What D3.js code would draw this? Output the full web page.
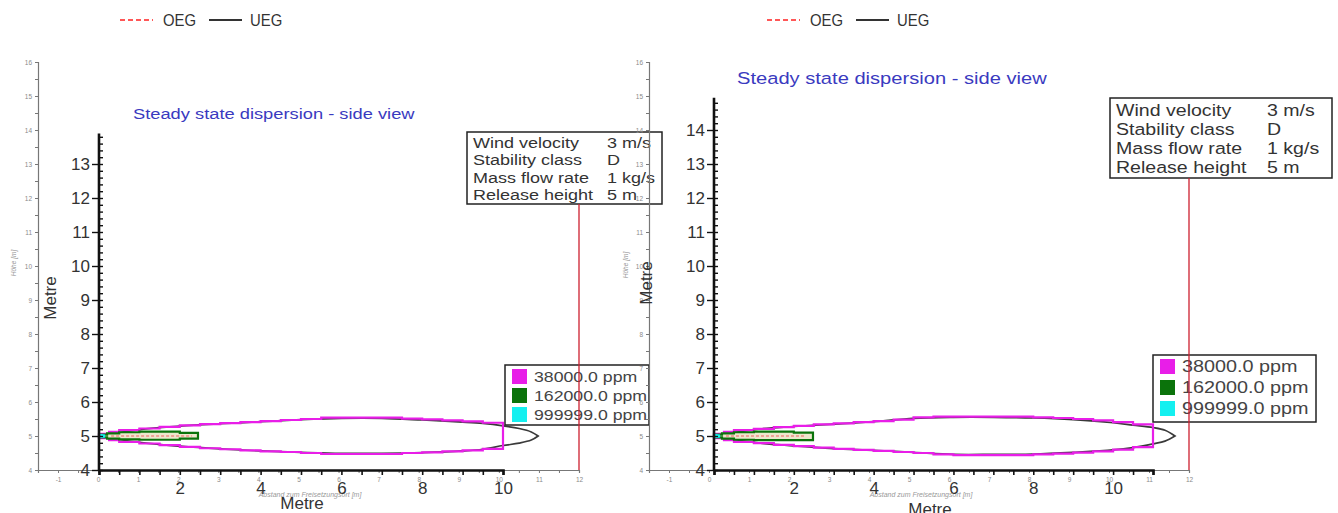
<!DOCTYPE html>
<html><head><meta charset="utf-8">
<script src="https://cdn.jsdelivr.net/npm/d3@7"></script>
<style>
html,body{margin:0;padding:0;background:#fff;}
svg{display:block;}
</style></head>
<body><svg id="c" width="1338" height="513"></svg>
<script>
// ---------- DATA ----------
const bgXTicks = [-1,0,1,2,3,4,5,6,7,8,9,10,11,12];
const bgYTicks = [4,5,6,7,8,9,10,11,12,13,14,15,16];
const fgXLabels = [2,4,6,8,10];
const fgYLabelsLeft = [4,5,6,7,8,9,10,11,12,13];
const fgYLabelsRight = [4,5,6,7,8,9,10,11,12,13,14];
const topLegend = ["OEG","UEG"];
const titleText = "Steady state dispersion - side view";
const infoLabels = ["Wind velocity","Stability class","Mass flow rate","Release height"];
const infoValues = ["3 m/s","D","1 kg/s","5 m"];
const concLabels = ["38000.0 ppm","162000.0 ppm","999999.0 ppm"];
const concColors = ["#e81ee8","#0b730b","#14f0f0"];
const axisTitle = "Metre";
const bgYTitle = "Höhe [m]";
const bgXTitle = "Abstand zum Freisetzungsort [m]";

// left panel plume (38000 ppm, stepped)
const leftMagX     = [0,0.25,0.5,1,1.5,2,2.5,3,3.5,4,4.5,5,5.5,6,6.5,7,7.5,8,8.5,9,9.5,10];
const leftMagUpper = [5.06,5.12,5.17,5.22,5.27,5.31,5.35,5.38,5.41,5.44,5.47,5.50,5.54,5.54,5.54,5.54,5.51,5.49,5.46,5.43,5.39,5.33];
const leftMagLower = [4.94,4.88,4.83,4.78,4.73,4.68,4.64,4.61,4.58,4.55,4.53,4.50,4.47,4.47,4.47,4.47,4.50,4.52,4.55,4.58,4.62,4.70];
// left panel 162000 ppm
const leftGrnX     = [0,0.2,0.5,1,1.5,2,2.45];
const leftGrnUpper = [5.04,5.08,5.11,5.13,5.13,5.09,5.09];
const leftGrnLower = [4.96,4.92,4.90,4.89,4.89,4.92,4.92];
// left panel UEG
const leftUegX     = [0,1,2,3,4,5,6,7,8,9,9.5,10,10.4,10.7,10.87];
const leftUegUpper = [5,5.19,5.29,5.36,5.42,5.48,5.52,5.52,5.47,5.41,5.37,5.30,5.22,5.12,5.0];
const leftUegLower = [5,4.81,4.70,4.62,4.56,4.52,4.49,4.49,4.51,4.56,4.61,4.72,4.79,4.88,5.0];

// right panel plume (38000 ppm)
const rightMagX     = [0,0.25,0.5,1,1.5,2,2.5,3,3.5,4,4.5,5,5.5,6,6.5,7,7.5,8,8.5,9,9.5,10,10.5,11];
const rightMagUpper = [5.06,5.12,5.17,5.21,5.26,5.30,5.34,5.37,5.41,5.44,5.48,5.55,5.57,5.57,5.57,5.57,5.57,5.55,5.53,5.50,5.46,5.41,5.34,5.27];
const rightMagLower = [4.94,4.88,4.83,4.79,4.74,4.70,4.66,4.62,4.59,4.56,4.53,4.50,4.46,4.44,4.44,4.44,4.44,4.46,4.48,4.51,4.55,4.60,4.67,4.76];
const rightGrnX     = [0,0.2,0.5,1,1.5,2,2.48];
const rightGrnUpper = [5.04,5.08,5.11,5.13,5.13,5.10,5.10];
const rightGrnLower = [4.96,4.92,4.89,4.88,4.88,4.88,4.88];
const rightUegX     = [0,1,2,3,4,5,6,7,8,9,10,10.5,11,11.3,11.55];
const rightUegUpper = [5,5.19,5.28,5.35,5.42,5.52,5.55,5.55,5.53,5.48,5.39,5.32,5.25,5.17,5.0];
const rightUegLower = [5,4.81,4.71,4.63,4.58,4.52,4.46,4.46,4.47,4.52,4.59,4.66,4.77,4.85,5.0];

// OEG (inner, dashed red) extent
const oegX = [0.3, 2.3];
const oegY = [5.0, 5.0];
// 999999 ppm core
const coreX = [0, 0.13];
const coreHalf = [0.04, 0.02];

// ---------- LAYOUT ----------
const panels = [
  {bgXr:[38,579], fgXd:[0,10], fgXr:[99,503], yR:[470,62], fgYTop:13.9, ylabels:fgYLabelsLeft,
   mag:[leftMagX,leftMagUpper,leftMagLower], grn:[leftGrnX,leftGrnUpper,leftGrnLower], ueg:[leftUegX,leftUegUpper,leftUegLower],
   legTop:{x:120,y:20}, title:{x:133,y:119,size:15,sx:1.22}, info:{x:467,y:132,w:195,h:72,c2:607,row:17.3,size:15,first:148,sx:1.2},
   conc:{x:505,y:365,w:144,h:60,size:15,row:19,sx:1.18},
   yTitle:{x:56,y:298}, xTitle:{x:302,y:509}, bgYT:{x:16,y:263}, bgXT:{x:310,y:497}},
  {bgXr:[649,1189], fgXd:[0,11], fgXr:[714,1153], yR:[470,62], fgYTop:14.95, ylabels:fgYLabelsRight,
   mag:[rightMagX,rightMagUpper,rightMagLower], grn:[rightGrnX,rightGrnUpper,rightGrnLower], ueg:[rightUegX,rightUegUpper,rightUegLower],
   legTop:{x:767,y:20}, title:{x:737,y:84,size:16.5,sx:1.22}, info:{x:1110,y:98,w:222,h:80,c2:1267,row:19,size:16.3,first:116,sx:1.2},
   conc:{x:1153,y:355,w:163,h:67,size:16.5,row:21,sx:1.2},
   yTitle:{x:652,y:283}, xTitle:{x:930,y:515}, bgYT:{x:628,y:265}, bgXT:{x:921,y:497}}
];

const svg = d3.select("#c");
const FONT = "'Liberation Sans', Arial, sans-serif";

function stext(g, x, y, t, size, sx, fill){
  return g.append("text").attr("transform",`translate(${x},${y}) scale(${sx},1)`)
    .attr("font-size",size).attr("font-family",FONT).attr("fill",fill).text(t);
}

function stepPolygon(xs, up, lo){
  const pts=[];
  const n=xs.length-1;
  for(let i=0;i<=n;i++){ pts.push([xs[i],up[i]]); if(i<n) pts.push([xs[i+1],up[i]]); }
  pts.push([xs[n],lo[n]]);
  for(let i=n;i>0;i--){ pts.push([xs[i],lo[i-1]]); pts.push([xs[i-1],lo[i-1]]); }
  return pts;
}

panels.forEach(p=>{
  const g = svg.append("g");
  const bgX = d3.scaleLinear().domain([-1.5,12]).range(p.bgXr);
  const fgX = d3.scaleLinear().domain(p.fgXd).range(p.fgXr);
  const y = d3.scaleLinear().domain([4,16]).range(p.yR);

  // background (faint) axes
  const bg = g.append("g").attr("class","bg");
  const bgAxisX = d3.axisBottom(bgX).tickValues(d3.range(-1.5,12.01,0.5)).tickSize(3)
      .tickFormat(d=> bgXTicks.includes(d)? d : "");
  bg.append("g").attr("transform",`translate(0,${y(4)})`).call(bgAxisX)
    .call(a=>{a.select(".domain").attr("stroke","#777").attr("stroke-width",1.2);
      a.selectAll("line").attr("stroke","#777");
      a.selectAll("text").attr("fill","#8a8a8a").attr("font-size",6.5).attr("font-family",FONT).attr("dy","0.9em");});
  const bgAxisY = d3.axisLeft(y).tickValues(d3.range(4,16.01,0.5)).tickSize(3)
      .tickFormat(d=> bgYTicks.includes(d)? d : "");
  bg.append("g").attr("transform",`translate(${bgX(-1.5)},0)`).call(bgAxisY)
    .call(a=>{a.select(".domain").attr("stroke","#777").attr("stroke-width",1.2);
      a.selectAll("line").attr("stroke","#777");
      a.selectAll("text").attr("fill","#8a8a8a").attr("font-size",6.5).attr("font-family",FONT);});
  bg.append("text").attr("transform",`translate(${p.bgYT.x},${p.bgYT.y}) rotate(-90)`)
    .attr("text-anchor","middle").attr("font-size",6.5).attr("font-style","italic").attr("fill","#999")
    .attr("font-family",FONT).text(bgYTitle);
  bg.append("text").attr("x",p.bgXT.x).attr("y",p.bgXT.y)
    .attr("text-anchor","middle").attr("font-size",7).attr("font-style","italic").attr("fill","#999")
    .attr("font-family",FONT).text(bgXTitle);

  // top legend
  const lt = g.append("g").attr("transform",`translate(${p.legTop.x},${p.legTop.y})`);
  lt.append("line").attr("x1",0).attr("x2",33).attr("stroke","#ff2020").attr("stroke-width",1.6).attr("stroke-dasharray","5,3");
  stext(lt, 43, 6, topLegend[0], 16, 0.93, "#333");
  lt.append("line").attr("x1",89).attr("x2",122).attr("stroke","#333").attr("stroke-width",2);
  stext(lt, 130, 6, topLegend[1], 16, 0.93, "#333");

  // title
  stext(g, p.title.x, p.title.y, titleText, p.title.size, p.title.sx, "#3a3ac0");

  // plume shapes
  const line = d3.line().x(d=>fgX(d[0])).y(d=>y(d[1]));
  const [ux,uu,ul] = p.ueg;
  const uegPts = ux.map((x,i)=>[x,uu[i]]).concat(ux.slice().reverse().map((x,k)=>[x, ul[ux.length-1-k]]));
  g.append("path").attr("d", d3.line().x(d=>fgX(d[0])).y(d=>y(d[1])).curve(d3.curveCatmullRom)(uegPts))
    .attr("fill","none").attr("stroke","#3a3a3a").attr("stroke-width",1.7);

  const [mx,mu,ml] = p.mag;
  g.append("path").attr("d", line(stepPolygon(mx,mu,ml))+"Z")
    .attr("fill","none").attr("stroke",concColors[0]).attr("stroke-width",2.2);

  const [gx,gu,gl] = p.grn;
  g.append("path").attr("d", line(stepPolygon(gx,gu,gl))+"Z")
    .attr("fill","#ece6cc").attr("stroke",concColors[1]).attr("stroke-width",2.2);
  g.append("path").attr("d", line(oegX.map((x,i)=>[x,oegY[i]])))
    .attr("stroke","#f06060").attr("stroke-width",1).attr("stroke-dasharray","3,2").attr("fill","none");
  g.append("path").attr("d", line([[coreX[0],5+coreHalf[0]],[coreX[1],5+coreHalf[1]],[coreX[1],5-coreHalf[1]],[coreX[0],5-coreHalf[0]]])+"Z")
    .attr("fill",concColors[2]).attr("stroke",concColors[2]).attr("stroke-width",2);

  // foreground axes
  const fx = d3.axisBottom(fgX).tickValues(d3.range(p.fgXd[0],p.fgXd[1]+0.01,0.5)).tickSize(5)
      .tickFormat(d=> fgXLabels.includes(d)? d : "");
  g.append("g").attr("transform",`translate(0,${y(4)})`).call(fx)
    .call(a=>{a.select(".domain").attr("stroke","#111").attr("stroke-width",2.6);
      a.selectAll("line").attr("stroke","#111").attr("stroke-width",1.6);
      a.selectAll("text").attr("fill","#333").attr("font-size",17).attr("font-family",FONT).attr("dy","0.95em");});
  const fy = d3.axisLeft(y).tickValues(p.ylabels).tickSize(7).tickPadding(2);
  g.append("g").attr("transform",`translate(${fgX(0)},0)`).call(fy)
    .call(a=>{a.select(".domain").remove();
      a.selectAll("line").attr("stroke","#111").attr("stroke-width",1.4);
      a.selectAll("text").attr("fill","#333").attr("font-size",17).attr("font-family",FONT);});
  const minor = d3.range(4, p.fgYTop, 0.2);
  const fym = d3.axisRight(y).tickValues(minor).tickSize(4).tickFormat("");
  g.append("g").attr("transform",`translate(${fgX(0)},0)`).call(fym)
    .call(a=>{a.select(".domain").remove(); a.selectAll("line").attr("stroke","#111").attr("stroke-width",1.4);});
  g.append("line").attr("x1",fgX(0)).attr("x2",fgX(0)).attr("y1",y(4)).attr("y2",y(p.fgYTop))
    .attr("stroke","#111").attr("stroke-width",2.6);

  g.append("text").attr("transform",`translate(${p.yTitle.x},${p.yTitle.y}) rotate(-90)`)
    .attr("text-anchor","middle").attr("font-size",17).attr("font-family",FONT).attr("fill","#333").text(axisTitle);
  g.append("text").attr("x",p.xTitle.x).attr("y",p.xTitle.y)
    .attr("text-anchor","middle").attr("font-size",17).attr("font-family",FONT).attr("fill","#333").text(axisTitle);

  // info box
  const ib = g.append("g");
  ib.append("rect").attr("x",p.info.x).attr("y",p.info.y).attr("width",p.info.w).attr("height",p.info.h)
    .attr("fill","#fff").attr("stroke","#222").attr("stroke-width",1.5);
  infoLabels.forEach((t,i)=>{
    stext(ib, p.info.x+6, p.info.first+i*p.info.row, t, p.info.size, p.info.sx, "#333");
    stext(ib, p.info.c2, p.info.first+i*p.info.row, infoValues[i], p.info.size, p.info.sx, "#333");
  });

  // concentration legend
  const cl = g.append("g");
  cl.append("rect").attr("x",p.conc.x).attr("y",p.conc.y).attr("width",p.conc.w).attr("height",p.conc.h)
    .attr("fill","#fff").attr("stroke","#222").attr("stroke-width",1.5);
  concLabels.forEach((t,i)=>{
    const cy = p.conc.y + 11 + i*p.conc.row;
    cl.append("rect").attr("x",p.conc.x+7).attr("y",cy-7).attr("width",15).attr("height",15).attr("fill",concColors[i]);
    stext(cl, p.conc.x+29, cy+6, t, p.conc.size, p.conc.sx, "#444");
  });

  // red marker line at x=12 (background scale)
  g.append("line").attr("x1",bgX(12)).attr("x2",bgX(12)).attr("y1",p.info.y+p.info.h).attr("y2",y(4))
    .attr("stroke","#cc1f2f").attr("stroke-width",1.3);
});
</script>
</body></html>
